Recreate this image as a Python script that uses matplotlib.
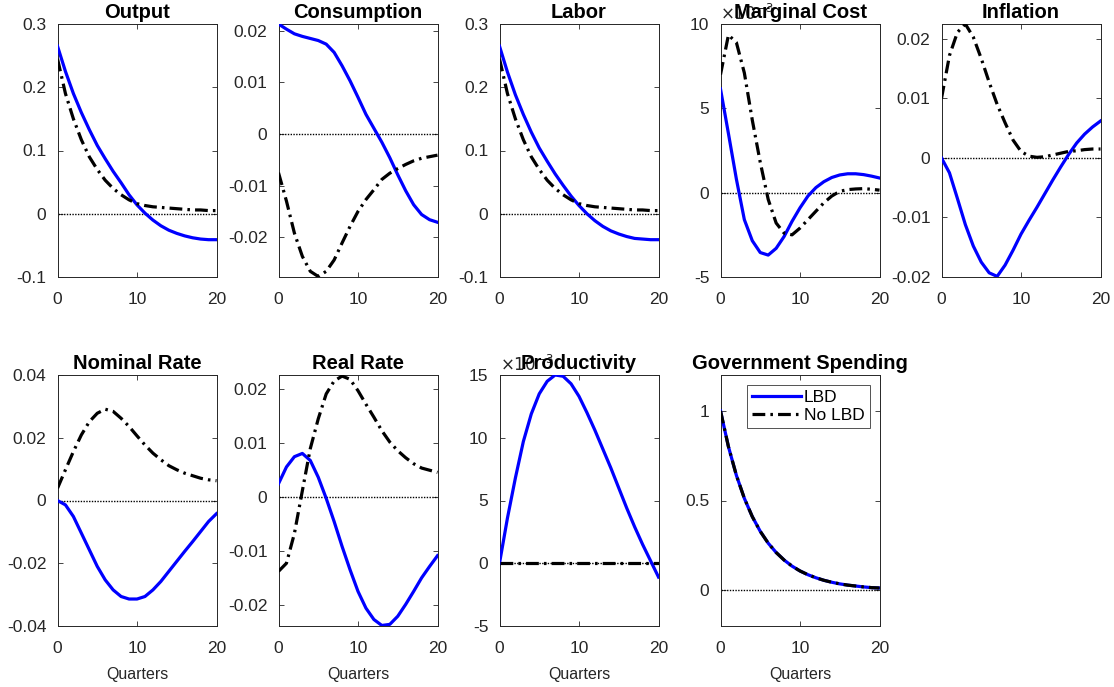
"impulse responses, LBD vs No LBD"
import matplotlib
matplotlib.use('Agg')
from matplotlib import pyplot as plt
from matplotlib.ticker import FuncFormatter

plt.rcParams['font.family'] = ['Liberation Sans', 'DejaVu Sans']
plt.rcParams['axes.unicode_minus'] = False

quarters = list(range(21))

output_lbd = [0.265, 0.225, 0.19, 0.16, 0.133, 0.108, 0.087, 0.067, 0.049, 0.03, 0.014,
              0.001, -0.01, -0.019, -0.026, -0.031, -0.035, -0.038, -0.04, -0.041, -0.041]
output_nolbd = [0.245, 0.19, 0.15, 0.117, 0.09, 0.07, 0.053, 0.04, 0.03, 0.022, 0.016,
                0.013, 0.011, 0.01, 0.009, 0.008, 0.007, 0.006, 0.006, 0.005, 0.005]

cons_lbd = [0.0213, 0.0203, 0.0194, 0.0189, 0.0185, 0.0181, 0.0174, 0.0158, 0.0132, 0.0103, 0.0071,
            0.0038, 0.0011, -0.0016, -0.0046, -0.0079, -0.011, -0.0137, -0.0156, -0.0166, -0.0171]
cons_nolbd = [-0.0075, -0.013, -0.0192, -0.0237, -0.0266, -0.0276, -0.0266, -0.0244, -0.0211, -0.0179, -0.015,
              -0.0127, -0.0108, -0.0088, -0.0076, -0.0067, -0.0059, -0.0052, -0.0047, -0.0044, -0.0041]

labor_lbd = [0.265, 0.224, 0.188, 0.157, 0.129, 0.104, 0.083, 0.063, 0.045, 0.028, 0.013,
             0.0, -0.011, -0.02, -0.027, -0.032, -0.036, -0.039, -0.04, -0.041, -0.041]
labor_nolbd = [0.245, 0.19, 0.15, 0.117, 0.09, 0.07, 0.053, 0.04, 0.03, 0.022, 0.016,
               0.013, 0.011, 0.01, 0.009, 0.008, 0.007, 0.006, 0.006, 0.005, 0.005]

# marginal cost, x 1e-3
mc_lbd = [6.15, 3.5, 0.8, -1.6, -2.85, -3.55, -3.7, -3.3, -2.6, -1.7, -0.9,
          -0.2, 0.3, 0.65, 0.9, 1.05, 1.12, 1.12, 1.07, 0.98, 0.87]
mc_nolbd = [7.0, 9.35, 8.9, 7.1, 4.3, 1.8, -0.4, -1.8, -2.4, -2.5, -2.1,
            -1.6, -1.1, -0.6, -0.2, 0.08, 0.18, 0.22, 0.24, 0.2, 0.15]

infl_lbd = [0.0, -0.0025, -0.0068, -0.0112, -0.0148, -0.0175, -0.0193, -0.0199, -0.018, -0.0155, -0.0128,
            -0.0105, -0.0083, -0.006, -0.0037, -0.0015, 0.0006, 0.0025, 0.004, 0.0052, 0.0062]
infl_nolbd = [0.01, 0.0172, 0.0211, 0.0225, 0.0203, 0.0167, 0.0127, 0.009, 0.0059, 0.003, 0.0011,
              0.0003, 0.0001, 0.0002, 0.0005, 0.0008, 0.0011, 0.0012, 0.0014, 0.0015, 0.0015]

nom_lbd = [0.0, -0.0014, -0.0051, -0.0104, -0.0157, -0.021, -0.0253, -0.0285, -0.0306, -0.0314, -0.0314,
           -0.0306, -0.0285, -0.0258, -0.0226, -0.0194, -0.0162, -0.0131, -0.0099, -0.0067, -0.0042]
nom_nolbd = [0.0039, 0.0098, 0.0156, 0.0209, 0.0251, 0.0278, 0.0291, 0.0284, 0.0262, 0.0236, 0.0206,
             0.0177, 0.0151, 0.013, 0.0111, 0.0098, 0.0087, 0.0079, 0.0071, 0.0066, 0.0063]

real_lbd = [0.0025, 0.0056, 0.0075, 0.0081, 0.0068, 0.0037, -0.0002, -0.0045, -0.0091, -0.0134, -0.0174,
            -0.0205, -0.0226, -0.0237, -0.0235, -0.022, -0.0198, -0.0174, -0.0149, -0.0128, -0.0108]
real_nolbd = [-0.0137, -0.0122, -0.0067, 0.0012, 0.009, 0.0145, 0.0191, 0.0215, 0.0224, 0.0218, 0.0197,
              0.0172, 0.0148, 0.0123, 0.0102, 0.0086, 0.0073, 0.0062, 0.0054, 0.005, 0.0046]

# productivity, x 1e-3
prod_lbd = [0.0, 3.6, 6.8, 9.7, 11.9, 13.5, 14.5, 15.0, 14.9, 14.3, 13.3,
            12.0, 10.6, 9.1, 7.6, 6.0, 4.4, 2.9, 1.5, 0.2, -1.1]
prod_nolbd = [0.0] * 21

gov_lbd = [1.0, 0.8, 0.64, 0.512, 0.41, 0.328, 0.262, 0.21, 0.168, 0.134, 0.107,
           0.086, 0.069, 0.055, 0.044, 0.035, 0.028, 0.023, 0.018, 0.014, 0.012]
gov_nolbd = [1.0, 0.8, 0.64, 0.512, 0.41, 0.328, 0.262, 0.21, 0.168, 0.134, 0.107,
             0.086, 0.069, 0.055, 0.044, 0.035, 0.028, 0.023, 0.018, 0.014, 0.012]

panels = [
    ("Output", output_lbd, output_nolbd, (-0.1, 0.3), [-0.1, 0, 0.1, 0.2, 0.3], False),
    ("Consumption", cons_lbd, cons_nolbd, (-0.0277, 0.0213), [-0.02, -0.01, 0, 0.01, 0.02], False),
    ("Labor", labor_lbd, labor_nolbd, (-0.1, 0.3), [-0.1, 0, 0.1, 0.2, 0.3], False),
    ("Marginal Cost", mc_lbd, mc_nolbd, (-5, 10), [-5, 0, 5, 10], True),
    ("Inflation", infl_lbd, infl_nolbd, (-0.02, 0.0225), [-0.02, -0.01, 0, 0.01, 0.02], False),
    ("Nominal Rate", nom_lbd, nom_nolbd, (-0.04, 0.04), [-0.04, -0.02, 0, 0.02, 0.04], False),
    ("Real Rate", real_lbd, real_nolbd, (-0.0238, 0.0226), [-0.02, -0.01, 0, 0.01, 0.02], False),
    ("Productivity", prod_lbd, prod_nolbd, (-5, 15), [-5, 0, 5, 10, 15], True),
    ("Government Spending", gov_lbd, gov_nolbd, (-0.2, 1.2), [0, 0.5, 1], False),
]

W, H = 1114, 687
fig = plt.figure(figsize=(W / 100, H / 100), dpi=100)
col_left = [57.5, 278.5, 499.5, 720.5, 941.5]
row_top = [24, 375]
row_bot = [277, 626]
ax_w = 159

fmt = FuncFormatter(lambda v, p: "%g" % round(v, 6))
gray = '#262626'

for i, (name, lbd, nolbd, ylim, yticks, scaled) in enumerate(panels):
    r, c = divmod(i, 5)
    ax = fig.add_axes([col_left[c] / W, 1 - row_bot[r] / H, ax_w / W, (row_bot[r] - row_top[r]) / H])
    ax.plot(quarters, lbd, color='blue', lw=2.3, label='LBD', zorder=3)
    ax.plot(quarters, nolbd, color='black', lw=2.3, ls=(0, (4, 1.6, 0.8, 1.6)), label='No LBD', zorder=4)
    ax.plot([0, 20], [0, 0], color='black', lw=1, ls=(0, (1, 1)), zorder=2)
    ax.set_xlim(0, 20)
    ax.set_ylim(*ylim)
    ax.set_xticks([0, 10, 20])
    ax.set_yticks(yticks)
    ax.yaxis.set_major_formatter(fmt)
    ax.tick_params(direction='in', top=True, right=True, length=3.5, width=0.6,
                   labelsize=12.5, colors=gray, labelcolor=gray)
    ax.tick_params(axis='x', pad=10.5)
    ax.tick_params(axis='y', pad=8)
    for s in ax.spines.values():
        s.set_color(gray)
        s.set_linewidth(0.7)
    ax.set_title(name, fontsize=14.5, fontweight='bold', pad=4, zorder=5)
    if scaled:
        ax.text(0.0, 1.005, r'$\times10^{-3}$', transform=ax.transAxes, fontsize=12,
                color=gray, ha='left', va='bottom', zorder=1)
    if r == 1:
        ax.set_xlabel("Quarters", fontsize=11.5, color=gray, labelpad=8)
    if name == "Government Spending":
        leg = ax.legend(loc='upper right', fontsize=12.5, frameon=True, fancybox=False,
                        handlelength=2.8, borderpad=0.3, labelspacing=0.15,
                        handletextpad=0.2, borderaxespad=0.55)
        leg.get_frame().set_edgecolor(gray)
        leg.get_frame().set_linewidth(0.7)

plt.savefig("out.png", dpi=100)
